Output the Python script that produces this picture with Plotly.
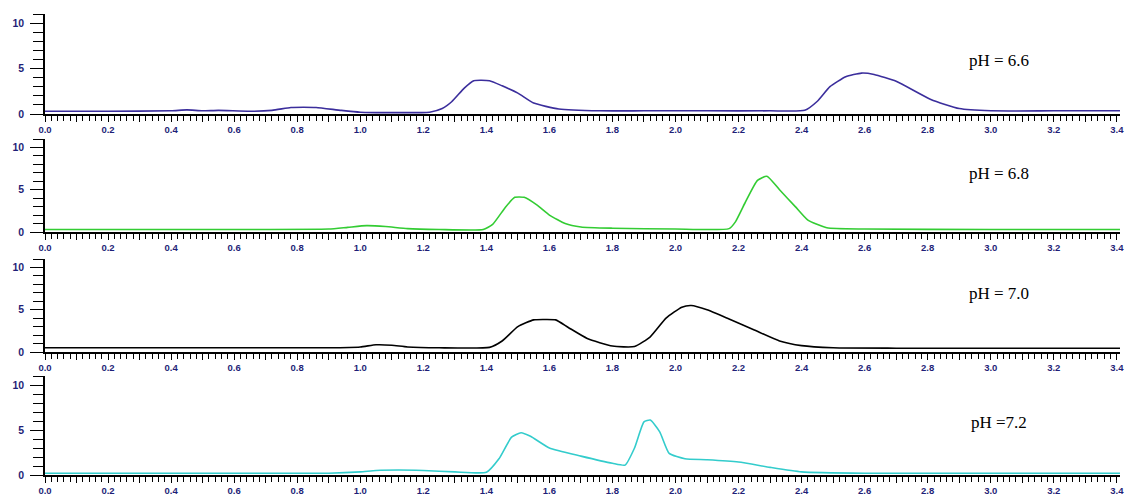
import plotly.graph_objects as go

# ---------------- data ----------------
x_66 = [0.0, 0.2, 0.4, 0.45, 0.5, 0.55, 0.65, 0.72, 0.78, 0.82, 0.86, 0.94, 1.0, 1.1, 1.22, 1.26, 1.29, 1.33,
        1.36, 1.41, 1.45, 1.5, 1.55, 1.63, 1.76, 1.9, 2.1, 2.3, 2.41, 2.45, 2.49, 2.54, 2.59, 2.63, 2.7, 2.81,
        2.9, 3.0, 3.2, 3.42]
y_66 = [0.3, 0.3, 0.35, 0.45, 0.35, 0.4, 0.3, 0.4, 0.72, 0.75, 0.72, 0.4, 0.2, 0.15, 0.2, 0.6, 1.35, 2.85,
        3.66, 3.66, 3.1, 2.3, 1.2, 0.55, 0.35, 0.35, 0.35, 0.35, 0.4, 1.4, 3.0, 4.1, 4.5, 4.35, 3.6, 1.6,
        0.6, 0.35, 0.35, 0.35]

x_68 = [0.0, 0.6, 0.9, 0.96, 1.02, 1.08, 1.15, 1.25, 1.39, 1.42, 1.46, 1.49, 1.52, 1.56, 1.6, 1.65, 1.7,
        1.8, 2.0, 2.17, 2.19, 2.22, 2.26, 2.29, 2.33, 2.38, 2.42, 2.48, 2.6, 3.0, 3.42]
y_68 = [0.3, 0.3, 0.35, 0.55, 0.75, 0.65, 0.4, 0.3, 0.3, 0.9, 2.9, 4.1, 4.1, 3.2, 2.0, 1.0, 0.6,
        0.45, 0.35, 0.4, 1.2, 3.4, 6.1, 6.6, 5.0, 3.0, 1.4, 0.5, 0.35, 0.3, 0.3]

x_70 = [0.0, 0.9, 1.0, 1.05, 1.1, 1.15, 1.25, 1.41, 1.45, 1.5, 1.55, 1.58, 1.62, 1.66, 1.72, 1.8, 1.87,
        1.92, 1.97, 2.02, 2.05, 2.1, 2.17, 2.25, 2.33, 2.4, 2.5, 2.7, 3.42]
y_70 = [0.5, 0.5, 0.6, 0.85, 0.8, 0.6, 0.5, 0.55, 1.3, 3.0, 3.8, 3.85, 3.8, 2.9, 1.6, 0.7, 0.65,
        1.8, 4.0, 5.3, 5.5, 5.0, 3.9, 2.6, 1.3, 0.75, 0.5, 0.45, 0.45]

x_72 = [0.0, 0.9, 1.0, 1.05, 1.12, 1.2, 1.3, 1.4, 1.44, 1.48, 1.51, 1.54, 1.6, 1.7, 1.8, 1.84, 1.87,
        1.9, 1.92, 1.95, 1.98, 2.03, 2.1, 2.2, 2.3, 2.4, 2.6, 3.0, 3.42]
y_72 = [0.2, 0.2, 0.35, 0.5, 0.55, 0.5, 0.35, 0.3, 1.8, 4.2, 4.7, 4.3, 3.0, 2.1, 1.3, 1.1, 3.0,
        5.9, 6.1, 4.8, 2.4, 1.8, 1.7, 1.45, 0.85, 0.35, 0.2, 0.2, 0.2]

series = [
    (x_66, y_66, "#3b2e9c", "pH = 6.6"),
    (x_68, y_68, "#33cc33", "pH = 6.8"),
    (x_70, y_70, "#000000", "pH = 7.0"),
    (x_72, y_72, "#33cccc", "pH =7.2"),
]

x_major = [round(i * 0.1, 1) for i in range(35)]
x_text = [f"{v:.1f}" if i % 2 == 0 else "" for i, v in enumerate(x_major)]
y_vals = [0, 5, 10]
y_text = ["0", "5", "10"]

# ---------------- layout ----------------
H = 495
W = 1126
ML, MR = 45, 6
panels_px = [(14, 114), (139, 232), (259, 352), (376, 475)]   # (top, bottom) in px
label_px = [60, 173, 293, 422]

fig = go.Figure()
layout = dict(
    width=W, height=H,
    margin=dict(l=ML, r=MR, t=0, b=0, autoexpand=False),
    paper_bgcolor="white", plot_bgcolor="white",
    showlegend=False,
)
xtickfont = dict(family="Arial", size=9.5, color="#1f1f78", weight="bold")
ytickfont = dict(family="Arial", size=10.5, color="#1f1f78", weight="bold")
annotations = []
for i, ((xs, ys, col, lab), (top, bot), lpx) in enumerate(zip(series, panels_px, label_px)):
    n = "" if i == 0 else str(i + 1)
    fig.add_trace(go.Scatter(x=xs, y=ys, mode="lines",
                             line=dict(color=col, width=1.6, shape="spline", smoothing=0.5),
                             xaxis="x" + n, yaxis="y" + n, hoverinfo="skip"))
    dom = [1 - bot / H, 1 - top / H]
    layout["xaxis" + n] = dict(
        domain=[0, 1], anchor="y" + n, range=[0, 3.41], automargin=False,
        showgrid=False, zeroline=False, showline=True, linecolor="black", linewidth=1.5,
        tickmode="array", tickvals=x_major, ticktext=x_text,
        ticks="outside", ticklen=6, tickwidth=1.3, tickcolor="black",
        minor=dict(dtick=0.02, ticks="outside", ticklen=5, tickwidth=1, tickcolor="black", showgrid=False),
        tickfont=xtickfont, ticklabelstandoff=0,
    )
    layout["yaxis" + n] = dict(
        domain=dom, anchor="x" + n, range=[0, 11], automargin=False,
        showgrid=False, zeroline=False, showline=True, linecolor="black", linewidth=1.5,
        tickmode="array", tickvals=y_vals, ticktext=y_text,
        ticks="outside", ticklen=13, tickwidth=1.3, tickcolor="black",
        minor=dict(dtick=1, ticks="outside", ticklen=10, tickwidth=1.3, tickcolor="black", showgrid=False),
        tickfont=ytickfont, ticklabelstandoff=4,
    )
    annotations.append(dict(text=lab, xref="paper", yref="paper", x=(999 - ML) / (W - ML - MR),
                            y=1 - lpx / H, xanchor="center", yanchor="middle", showarrow=False,
                            font=dict(family="Liberation Serif", size=17, color="black")))
layout["annotations"] = annotations
fig.update_layout(**layout)
fig.write_html("out.html", config={"displayModeBar": False},
               post_script="document.body.style.margin='0';document.body.style.overflow='hidden';")
